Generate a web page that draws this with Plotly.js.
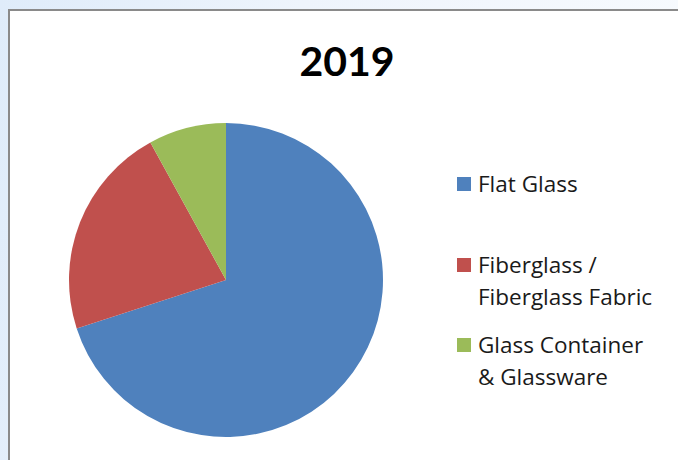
<!DOCTYPE html>
<html>
<head>
<meta charset="utf-8">
<script src="https://cdn.plot.ly/plotly-3.0.1.min.js"></script>
<style>
  html, body { margin: 0; padding: 0; }
  body { width: 678px; height: 460px; overflow: hidden;
         background: linear-gradient(100deg, #dfecfa 0%, #eef4fc 40%, #f8fbfe 100%); }
  #chart { width: 678px; height: 460px; }
</style>
</head>
<body>
<div id="chart"></div>
<script>
// ---- data ----
const chartTitle = "2019";
const categories = ["Flat Glass", "Fiberglass /<br>Fiberglass Fabric", "Glass Container<br>& Glassware"];
const values = [70, 22, 8];
const colors = ["#4F81BD", "#C0504D", "#9BBB59"];

const W = 678, H = 460;
const px = x => x / W;
const py = y => 1 - y / H;

// Pie
const cx = 226, cy = 280, r = 157;
const trace = {
  type: "pie",
  labels: categories,
  values: values,
  sort: false,
  direction: "clockwise",
  rotation: 0,
  marker: { colors: colors, line: { color: "#ffffff", width: 0 } },
  textinfo: "none",
  hoverinfo: "label+percent",
  showlegend: false,
  domain: { x: [px(cx - r), px(cx + r)], y: [py(cy + r), py(cy - r)] }
};

// Custom legend (Excel-like evenly spaced entries)
const legendY = [183, 264, 344];
const lineGap = 32;
const shapes = [{
  type: "rect", xref: "paper", yref: "paper",
  x0: px(9), x1: px(700), y0: py(480), y1: py(10),
  fillcolor: "#ffffff", line: { color: "#8a8a8a", width: 2 }, layer: "below"
}];
const annotations = [];
categories.forEach((lab, i) => {
  const y = legendY[i];
  shapes.push({
    type: "rect", xref: "paper", yref: "paper",
    x0: px(457), x1: px(471), y0: py(y + 8), y1: py(y - 6),
    fillcolor: colors[i], line: { width: 0 }
  });
  lab.split("<br>").forEach((line, j) => {
    annotations.push({
      xref: "paper", yref: "paper", x: px(476), y: py(y + j * lineGap),
      xanchor: "left", yanchor: "middle", showarrow: false, text: line,
      font: { family: "'Open Sans', 'Noto Sans', sans-serif", size: 22.5, color: "#1a1a1a" }
    });
  });
});

const layout = {
  width: W, height: H,
  margin: { l: 0, r: 0, t: 0, b: 0 },
  paper_bgcolor: "rgba(0,0,0,0)",
  plot_bgcolor: "rgba(0,0,0,0)",
  title: {
    text: "<b>" + chartTitle + "</b>",
    x: px(347), xanchor: "center", y: py(62), yanchor: "middle",
    font: { family: "Lato, 'Open Sans', sans-serif", size: 41, color: "#000000" }
  },
  showlegend: false,
  shapes: shapes,
  annotations: annotations
};

Plotly.newPlot("chart", [trace], layout, { displayModeBar: false, staticPlot: true });
</script>
</body>
</html>
